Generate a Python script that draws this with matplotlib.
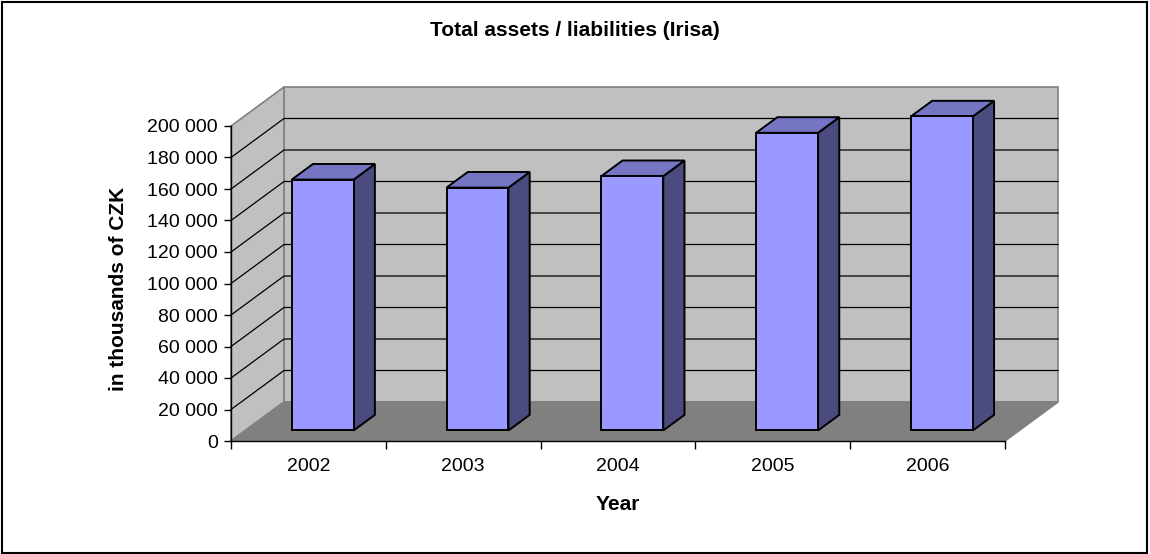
import matplotlib
matplotlib.use("Agg")
import matplotlib.pyplot as plt
from matplotlib.patches import Polygon, Rectangle
from matplotlib.ticker import FuncFormatter, FixedLocator

# ---- data ----
years = ["2002", "2003", "2004", "2005", "2006"]
values = [159300, 154200, 161500, 189000, 199400]
y_max = 200000
y_step = 20000
title = "Total assets / liabilities (Irisa)"
x_label = "Year"
y_label = "in thousands of CZK"

# ---- style ----
plt.rcParams['font.family'] = ['Liberation Sans', 'DejaVu Sans']
FS = 14
FSB = 15
W, H = 1150, 554
fig = plt.figure(figsize=(W / 100, H / 100), dpi=100)
fig.patch.set_facecolor("white")

n = len(years)
ax = fig.add_axes([231 / W, (H - 441) / H, 774 / W, 315 / H])
ax.set_xlim(0, n)
ax.set_ylim(0, y_max)
ax.patch.set_visible(False)

# oblique depth projection (depth z in 0..1)
DX = 53 / (774 / n)
DY = 39 * (y_max / 315)


def P(x, y, z):
    return (x + z * DX, y + z * DY)


def poly(pts, fc, ec, lw, z):
    ax.add_patch(Polygon(pts, closed=True, facecolor=fc, edgecolor=ec,
                         linewidth=lw, clip_on=False, zorder=z,
                         joinstyle="miter"))


wall_c = "#C0C0C0"
floor_c = "#808080"
edge_c = "#808080"

# back wall
poly([P(0, 0, 1), P(n, 0, 1), P(n, y_max, 1), P(0, y_max, 1)], wall_c, edge_c, 1.2, 1)
# left wall
poly([P(0, 0, 0), P(0, 0, 1), P(0, y_max, 1), P(0, y_max, 0)], wall_c, edge_c, 1.2, 1)
# floor
poly([P(0, 0, 0), P(n, 0, 0), P(n, 0, 1), P(0, 0, 1)], floor_c, edge_c, 1.2, 1.5)

# gridlines
for v in range(y_step, y_max, y_step):
    pts = [P(0, v, 0), P(0, v, 1), P(n, v, 1)]
    ax.plot([p[0] for p in pts], [p[1] for p in pts], color="black",
            lw=0.9, clip_on=False, zorder=2)

# bars
z0, z1 = 0.27, 0.67
bw = 0.4
front_c = "#9999FF"
top_c = "#7575C4"
side_c = "#4B4B80"
for i, v in enumerate(values):
    x0 = i + (1 - bw) / 2
    x1 = x0 + bw
    poly([P(x1, 0, z0), P(x1, v, z0), P(x1, v, z1), P(x1, 0, z1)], side_c, "black", 1.4, 3)
    poly([P(x0, v, z0), P(x1, v, z0), P(x1, v, z1), P(x0, v, z1)], top_c, "black", 1.4, 3)
    poly([P(x0, 0, z0), P(x1, 0, z0), P(x1, v, z0), P(x0, v, z0)], front_c, "black", 1.4, 3)

# axes / spines
for s in ["top", "right"]:
    ax.spines[s].set_visible(False)
for s in ["left", "bottom"]:
    ax.spines[s].set_color("black")
    ax.spines[s].set_linewidth(1.0)
    ax.spines[s].set_zorder(4)

ax.yaxis.set_major_locator(FixedLocator(list(range(0, y_max + 1, y_step))))
ax.yaxis.set_major_formatter(FuncFormatter(lambda v, p: f"{int(v):,}".replace(",", " ")))
ax.tick_params(axis="y", direction="out", length=5, width=1, pad=4.5,
               labelsize=FS, colors="black")

ax.xaxis.set_major_locator(FixedLocator(list(range(0, n + 1))))
ax.xaxis.set_major_formatter(FuncFormatter(lambda v, p: ""))
ax.xaxis.set_minor_locator(FixedLocator([i + 0.5 for i in range(n)]))
ax.set_xticks([i + 0.5 for i in range(n)], years, minor=True)
ax.tick_params(axis="x", which="major", direction="out", length=6, width=1)
ax.tick_params(axis="x", which="minor", length=0, pad=12, labelsize=FS)

# labels
fig.text(574.5 / W, 1 - 31 / H, title, ha="center", va="center",
         fontsize=FSB, fontweight="bold")
fig.text(618 / W, 1 - 505 / H, x_label, ha="center", va="center",
         fontsize=FSB, fontweight="bold")
fig.text(118 / W, 1 - 289 / H, y_label, ha="center", va="center",
         fontsize=FSB, fontweight="bold", rotation=90)

# outer border
fig.add_artist(Rectangle((2 / W, 1 - 553 / H), (1147 - 2) / W, (553 - 2) / H,
                         transform=fig.transFigure, fill=False,
                         edgecolor="black", linewidth=1.5))

fig.savefig("out.png", dpi=100)
